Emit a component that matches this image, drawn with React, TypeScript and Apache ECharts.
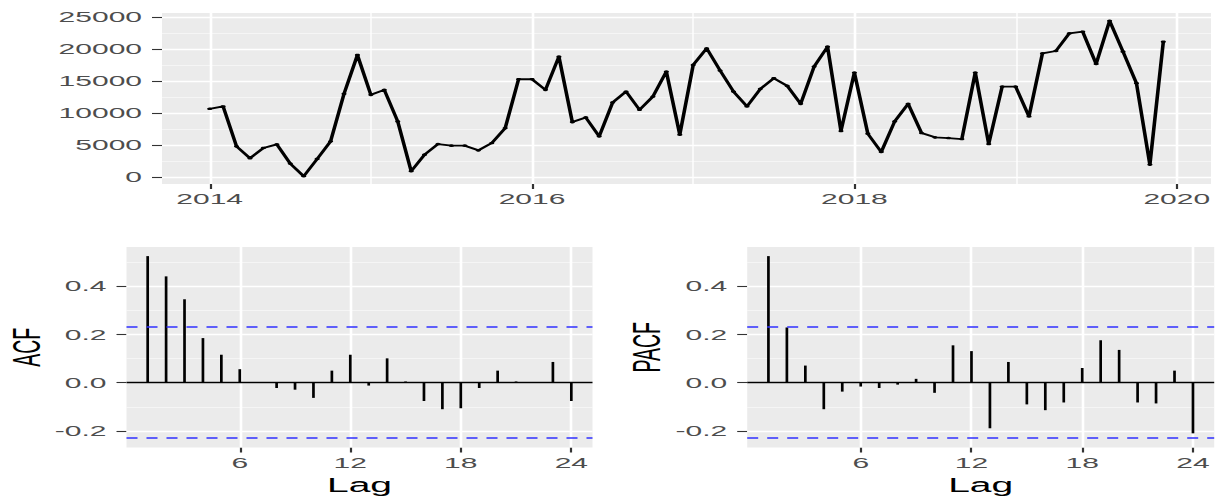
import React, { useEffect, useRef } from "react";
import * as echarts from "echarts";

// ---------------- data ----------------
const START_YEAR = 2014;
const values2014 = [10663, 11025, 4814, 2950, 4555, 5124, 2122, 155, 2847, 5590, 12992, 19048];
const values2015 = [12837, 13613, 8696, 932, 3520, 5176, 4917, 4917, 4193, 5331, 7660, 15269];
const values2016 = [15269, 13613, 18789, 8592, 9317, 6366, 11646, 13354, 10507, 12578, 16460, 6625];
const values2017 = [17495, 20083, 16615, 13354, 11025, 13768, 15425, 14234, 11439, 17236, 20342, 7200];
const values2018 = [16305, 6780, 3934, 8696, 11439, 6884, 6211, 6108, 5952, 16305, 5176, 14130];
const values2019 = [14130, 9472, 19306, 19669, 22412, 22671, 17650, 24379, 19565, 14648, 1967, 21118];
const seriesValues = [...values2014, ...values2015, ...values2016, ...values2017, ...values2018, ...values2019];

const yearTicks = [2014, 2016, 2018, 2020];
const yearMinor = [2015, 2017, 2019];
const valueTicks = [0, 5000, 10000, 15000, 20000, 25000];
const valueMinor = [2500, 7500, 12500, 17500, 22500];

const lags = [1, 2, 3, 4, 5, 6, 7, 8, 9, 10, 11, 12, 13, 14, 15, 16, 17, 18, 19, 20, 21, 22, 23, 24];
const acfValues = [0.525, 0.441, 0.346, 0.185, 0.116, 0.056, 0.001, -0.022, -0.029, -0.063, 0.05, 0.116,
  -0.012, 0.101, 0.005, -0.076, -0.11, -0.106, -0.022, 0.05, 0.005, 0.0, 0.086, -0.076];
const pacfValues = [0.525, 0.229, 0.071, -0.11, -0.037, -0.016, -0.022, -0.008, 0.016, -0.042, 0.155, 0.131,
  -0.189, 0.086, -0.09, -0.114, -0.082, 0.061, 0.176, 0.136, -0.082, -0.086, 0.05, -0.21];
const lagTicks = [6, 12, 18, 24];
const corrTicks = [-0.2, 0, 0.2, 0.4];
const corrMinor = [-0.1, 0.1, 0.3, 0.5];

// ---------------- style ----------------
const FONT = "'Liberation Sans', Arial, Helvetica, sans-serif";
const PANEL_BG = "#EBEBEB";
const TICK_COLOR = "#333333";
const LABEL_COLOR = "#4D4D4D";
const W = 608.5; // drawn at half width, then stretched x2 like the reference
const H = 496;

function expand(lo: number, hi: number): [number, number] {
  const r = hi - lo;
  return [lo - 0.05 * r, hi + 0.05 * r];
}

function gridLines(xMajor: number[], xMinor: number[], yMajor: number[], yMinor: number[]) {
  const d: any[] = [];
  yMinor.forEach((v) => d.push({ yAxis: v, lineStyle: { color: "#FFFFFF", width: 0.7, type: "solid" } }));
  xMinor.forEach((v) => d.push({ xAxis: v, lineStyle: { color: "#FFFFFF", width: 0.7, type: "solid" } }));
  yMajor.forEach((v) => d.push({ yAxis: v, lineStyle: { color: "#FFFFFF", width: 1.3, type: "solid" } }));
  xMajor.forEach((v) => d.push({ xAxis: v, lineStyle: { color: "#FFFFFF", width: 1.3, type: "solid" } }));
  return d;
}

function axisCommon(ticks: number[], margin: number, fmt: (v: number) => string) {
  return {
    type: "value" as const,
    axisLine: { show: false, onZero: false },
    axisTick: { show: true, customValues: ticks, length: 5, lineStyle: { color: TICK_COLOR, width: 1.1 } },
    axisLabel: {
      customValues: ticks,
      margin,
      color: LABEL_COLOR,
      fontSize: 15,
      fontFamily: FONT,
      formatter: fmt,
    },
    splitLine: { show: false },
  };
}

export default function App() {
  const ref = useRef<HTMLDivElement>(null);

  useEffect(() => {
    if (!ref.current) return;
    const chart = echarts.init(ref.current, undefined, { renderer: "svg", width: W, height: H });

    const times = seriesValues.map((_, i) => START_YEAR + i / 12);
    const [xMin, xMax] = expand(times[0], times[times.length - 1]);
    const [yMin, yMax] = expand(Math.min(...seriesValues), Math.max(...seriesValues));

    const ci = 1.96 / Math.sqrt(seriesValues.length);
    const [lagMin, lagMax] = expand(lags[0], lags[lags.length - 1]);
    const acfRange = expand(Math.min(-ci, ...acfValues), Math.max(ci, ...acfValues));
    const pacfRange = expand(Math.min(-ci, ...pacfValues), Math.max(ci, ...pacfValues));

    const nameStyle = { fontSize: 19.5, color: "#000000", fontFamily: FONT };
    const fmtCorr = (v: number) => v.toFixed(1);
    const fmtInt = (v: number) => String(Math.round(v));

    const refLines = [
      { yAxis: 0, lineStyle: { color: "#000000", width: 1.3, type: "solid" } },
      { yAxis: ci, lineStyle: { color: "#3030FF", width: 1.6, type: [5.5, 4.5] } },
      { yAxis: -ci, lineStyle: { color: "#3030FF", width: 1.6, type: [5.5, 4.5] } },
    ];

    const markLine = (data: any[], z: number) => ({
      silent: true,
      z,
      symbol: ["none", "none"],
      label: { show: false },
      emphasis: { disabled: true },
      data,
    });

    const option: any = {
      animation: false,
      grid: [
        { left: 81, top: 13, width: 524.5, height: 171, show: true, backgroundColor: PANEL_BG, borderWidth: 0 },
        { left: 63.25, top: 247, width: 233, height: 202, show: true, backgroundColor: PANEL_BG, borderWidth: 0 },
        { left: 373.6, top: 247, width: 233.5, height: 202, show: true, backgroundColor: PANEL_BG, borderWidth: 0 },
      ],
      xAxis: [
        { ...axisCommon(yearTicks, 7, fmtInt), gridIndex: 0, min: xMin, max: xMax },
        {
          ...axisCommon(lagTicks, 8, fmtInt), gridIndex: 1, min: lagMin, max: lagMax,
          name: "Lag", nameLocation: "middle", nameGap: 27.5, nameTextStyle: nameStyle,
        },
        {
          ...axisCommon(lagTicks, 8, fmtInt), gridIndex: 2, min: lagMin, max: lagMax,
          name: "Lag", nameLocation: "middle", nameGap: 27.5, nameTextStyle: nameStyle,
        },
      ],
      yAxis: [
        { ...axisCommon(valueTicks, 10, fmtInt), gridIndex: 0, min: yMin, max: yMax },
        {
          ...axisCommon(corrTicks, 10, fmtCorr), gridIndex: 1, min: acfRange[0], max: acfRange[1],
          name: "ACF", nameLocation: "middle", nameGap: 40, nameTextStyle: nameStyle,
        },
        {
          ...axisCommon(corrTicks, 10, fmtCorr), gridIndex: 2, min: pacfRange[0], max: pacfRange[1],
          name: "PACF", nameLocation: "middle", nameGap: 40, nameTextStyle: nameStyle,
        },
      ],
      series: [
        {
          type: "line", xAxisIndex: 0, yAxisIndex: 0, data: [], z: 1, silent: true,
          markLine: markLine(gridLines(yearTicks, yearMinor, valueTicks, valueMinor), 1),
        },
        {
          type: "line", xAxisIndex: 0, yAxisIndex: 0, z: 3, silent: true,
          data: seriesValues.map((v, i) => [times[i], v]),
          symbol: "circle", symbolSize: 2.6, showSymbol: true,
          lineStyle: { color: "#000000", width: 1.8 },
          itemStyle: { color: "#000000" },
        },
        {
          type: "line", xAxisIndex: 1, yAxisIndex: 1, data: [], z: 1, silent: true,
          markLine: markLine(gridLines(lagTicks, [], corrTicks, corrMinor), 1),
        },
        {
          type: "bar", xAxisIndex: 1, yAxisIndex: 1, z: 3, silent: true, barWidth: 1.35,
          data: lags.map((l, i) => [l, acfValues[i]]),
          itemStyle: { color: "#000000" },
        },
        {
          type: "line", xAxisIndex: 1, yAxisIndex: 1, data: [], z: 4, silent: true,
          markLine: markLine(refLines, 5),
        },
        {
          type: "line", xAxisIndex: 2, yAxisIndex: 2, data: [], z: 1, silent: true,
          markLine: markLine(gridLines(lagTicks, [], corrTicks, corrMinor), 1),
        },
        {
          type: "bar", xAxisIndex: 2, yAxisIndex: 2, z: 3, silent: true, barWidth: 1.35,
          data: lags.map((l, i) => [l, pacfValues[i]]),
          itemStyle: { color: "#000000" },
        },
        {
          type: "line", xAxisIndex: 2, yAxisIndex: 2, data: [], z: 4, silent: true,
          markLine: markLine(refLines, 5),
        },
      ],
    };

    chart.setOption(option);
    return () => chart.dispose();
  }, []);

  return (
    <div
      style={{
        position: "absolute",
        left: 0,
        top: 0,
        width: 1217,
        height: H,
        overflow: "hidden",
        background: "#FFFFFF",
      }}
    >
      <div
        ref={ref}
        style={{
          width: W,
          height: H,
          transform: "scaleX(2)",
          transformOrigin: "0 0",
        }}
      />
    </div>
  );
}
